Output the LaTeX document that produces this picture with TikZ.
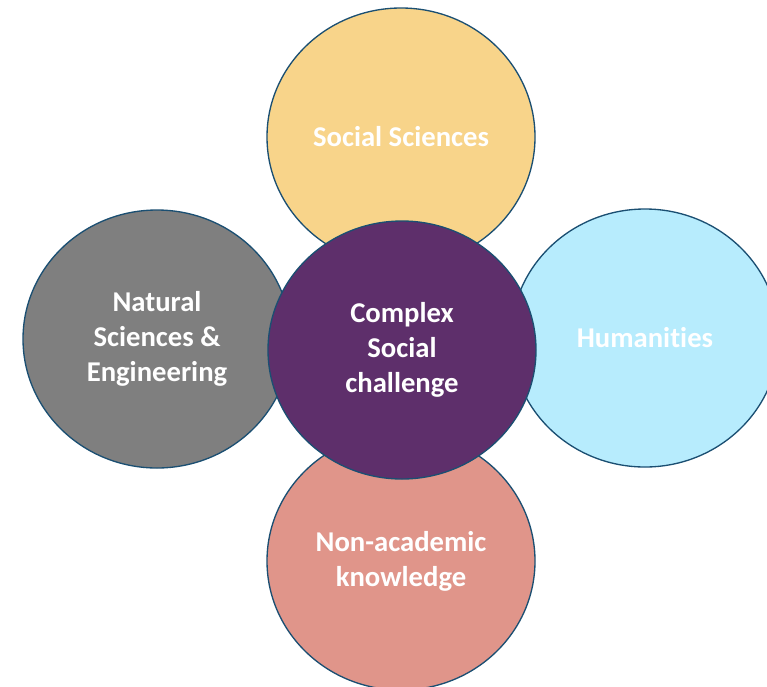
\documentclass[tikz,border=0pt]{standalone}
\usepackage{fontspec}
\setmainfont{Carlito}[Ligatures={NoCommon}]
\usetikzlibrary{shapes.geometric}

\definecolor{rimblue}{HTML}{1B4F72}
\definecolor{socyellow}{HTML}{F8D48A}
\definecolor{natgrey}{HTML}{7F7F7F}
\definecolor{humblue}{HTML}{B7ECFD}
\definecolor{nonsalmon}{HTML}{E0958A}
\definecolor{cplxpurple}{HTML}{5E2F6B}

\tikzset{every picture/.style={line width=0.75pt}}
\tikzset{field/.style={ellipse, draw=rimblue, line width=1pt, minimum width=201pt, minimum height=193.5pt, inner sep=0pt, align=center, text=white, font=\fontsize{21.5}{26.3}\selectfont\bfseries}}

\begin{document}
\begin{tikzpicture}[x=0.75pt,y=0.75pt,yscale=-1,xscale=1]
\useasboundingbox (0,0) rectangle (767,686);

% Shape: Ellipse [top]
\node [field, fill=socyellow] (social) at (401,137) {Social Sciences};
% Shape: Ellipse [left]
\node [field, fill=natgrey] (natural) at (157,339) {Natural\\Sciences \&\\Engineering};
% Shape: Ellipse [right]
\node [field, fill=humblue] (humanities) at (645,338) {Humanities};
% Shape: Ellipse [bottom]
\node [field, fill=nonsalmon] (nonacad) at (401,561) {Non-academic\\knowledge};
% Shape: Ellipse [centre]
\node [field, fill=cplxpurple] (complex) at (402,350) {Complex\\Social\\challenge};

\end{tikzpicture}
\end{document}
